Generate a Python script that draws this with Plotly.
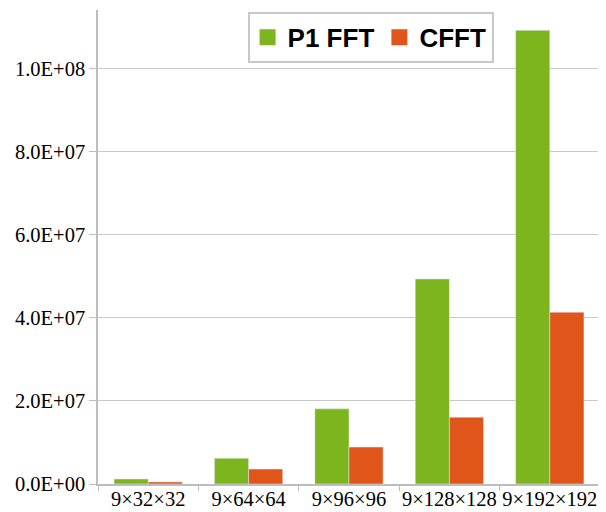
import plotly.graph_objects as go

categories = ["9×32×32", "9×64×64", "9×96×96", "9×128×128", "9×192×192"]
p1_fft = [1.2e6, 6.2e6, 18.1e6, 49.4e6, 109.3e6]
cfft = [0.5e6, 3.6e6, 8.9e6, 16.1e6, 41.4e6]
tick_vals = [0, 2e7, 4e7, 6e7, 8e7, 1e8]
tick_text = ["0.0E+00", "2.0E+07", "4.0E+07", "6.0E+07", "8.0E+07", "1.0E+08"]

GREEN = "#7db51f"
ORANGE = "#e0561a"

fig = go.Figure()
fig.add_trace(go.Bar(x=categories, y=p1_fft, name="P1 FFT", marker_color=GREEN,
                     showlegend=False, legendgroup="a"))
fig.add_trace(go.Bar(x=categories, y=cfft, name="CFFT", marker_color=ORANGE,
                     showlegend=False, legendgroup="b"))
# legend entries with larger square swatches
fig.add_trace(go.Scatter(x=[None], y=[None], mode="markers", name="P1 FFT", legendgroup="a",
                         marker=dict(symbol="square", size=30, color=GREEN)))
fig.add_trace(go.Scatter(x=[None], y=[None], mode="markers", name="CFFT", legendgroup="b",
                         marker=dict(symbol="square", size=30, color=ORANGE)))

fig.update_layout(
    width=598, height=504,
    margin=dict(l=90, r=6, t=2, b=28),
    barmode="group", bargap=0.32, bargroupgap=0,
    plot_bgcolor="white", paper_bgcolor="white",
    legend=dict(orientation="h", x=0.298, y=0.996, xanchor="left", yanchor="top",
                bordercolor="#c8c8c8", borderwidth=2, bgcolor="white", itemsizing="trace",
                font=dict(family="Liberation Sans", size=26, color="black", weight="bold")),
    xaxis=dict(showline=True, linecolor="#bdbdbd", linewidth=1.5, ticks="outside",
               tickson="boundaries", ticklen=5, tickcolor="#bdbdbd", automargin=False,
               tickangle=0, ticklabelstandoff=-4,
               tickfont=dict(family="Liberation Serif", size=20.5, color="black")),
    yaxis=dict(range=[0, 1.142e8], tickvals=tick_vals, ticktext=tick_text,
               showline=True, linecolor="#bdbdbd", linewidth=1.5, automargin=False,
               showgrid=True, gridcolor="#c8c8c8", gridwidth=1,
               ticks="outside", ticklen=7, tickcolor="#bdbdbd",
               tickfont=dict(family="Liberation Serif", size=20.5, color="black"),
               zeroline=False),
)
fig.write_html("out.html")
